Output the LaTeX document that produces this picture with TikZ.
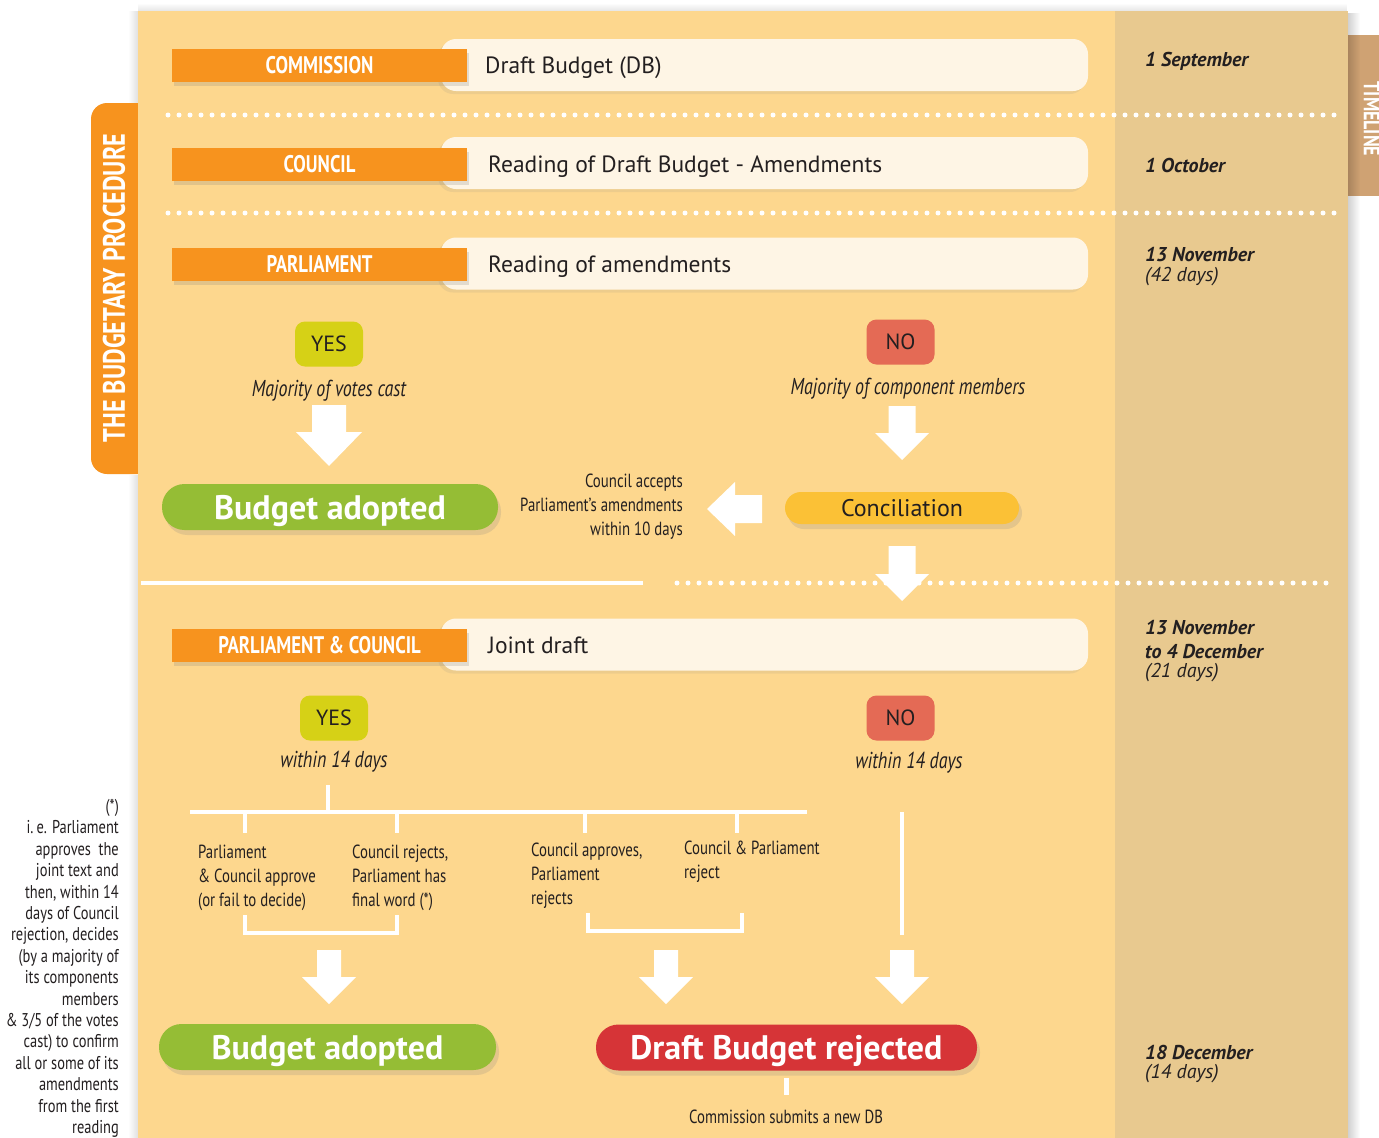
\documentclass[tikz,border=0pt]{standalone}
\usepackage{fontspec}
\setmainfont{PT Sans}
\newfontfamily\cond{PT Sans}[FakeStretch=0.78]
\usetikzlibrary{shadows,fadings}
\definecolor{cpanel}{HTML}{FDD78E}
\definecolor{ctime}{HTML}{E8C98F}
\definecolor{corange}{HTML}{F7931E}
\definecolor{cpale}{HTML}{FEF5E5}
\definecolor{cyes}{HTML}{D6D116}
\definecolor{cno}{HTML}{E46A55}
\definecolor{cconc}{HTML}{FBC136}
\definecolor{cgreen}{HTML}{95BD35}
\definecolor{cred}{HTML}{D63437}
\definecolor{ctab}{HTML}{CFA273}
\definecolor{ctext}{HTML}{231F20}
\newcommand\fs[2]{\fontsize{#1}{#2}\selectfont}
\newcommand\DArr[6]{\fill[white] (#1-#3,#2) -- (#1+#3,#2) -- (#1+#3,#2+#5) -- (#1+#4,#2+#5) -- (#1,#2+#6) -- (#1-#4,#2+#5) -- (#1-#3,#2+#5) -- cycle;}
\begin{document}
\begin{tikzpicture}[x=1pt,y=-1pt,
  hdr/.style={fill=corange, text=white, minimum width=295pt, minimum height=33pt, inner sep=0pt,
    font=\cond\bfseries\fs{24}{26}, drop shadow={opacity=0.22, shadow xshift=2pt, shadow yshift=-4pt}},
  pale/.style={fill=cpale, rounded corners=15pt, minimum width=647pt, minimum height=52pt, inner sep=0pt,
    drop shadow={opacity=0.12, shadow xshift=-3pt, shadow yshift=-3pt}},
  rowtxt/.style={anchor=base west, inner sep=0pt, font=\fs{23.5}{28}, text=ctext},
  yesbox/.style={fill=cyes, rounded corners=10pt, minimum width=68pt, minimum height=45pt, inner sep=0pt,
    font=\fs{22}{24}, text=ctext},
  nobox/.style={yesbox, fill=cno},
  note/.style={font=\cond\itshape\fs{23}{26}, text=ctext, inner sep=0pt},
  pill/.style={rounded corners=22.5pt, minimum height=46pt, inner sep=0pt, text=white, text depth=0pt,
    font=\bfseries\fs{34}{38}, drop shadow={opacity=0.2, shadow xshift=3pt, shadow yshift=-5pt}},
  small/.style={font=\cond\fs{19}{24}, text=ctext, inner sep=0pt},
  datebf/.style={font=\bfseries\itshape\fs{20}{23}, text=ctext, inner sep=0pt, anchor=west},
  dateit/.style={font=\itshape\fs{20}{23}, text=ctext, inner sep=0pt, anchor=west},
  dots/.style={white, line width=5pt, line cap=round, dash pattern=on 0pt off 11pt},
  wline/.style={white, line width=4.5pt},
]
\useasboundingbox (0,0) rectangle (1379,1138);
\fill[white] (0,0) rectangle (1379,1138);
% timeline tab
\fill[ctab] (1340,35) rectangle (1379,196);
\node[rotate=-90, text=white, font=\cond\bfseries\fs{23}{24}, inner sep=0pt] (tl) at (1372,119) {TIMELINE};
% procedure tab
\fill[corange, rounded corners=16pt] (91,103) rectangle (170,474);
\node[rotate=90, text=white, font=\cond\bfseries\fs{31}{32}, inner sep=0pt] (proc) at (114,288) {THE BUDGETARY PROCEDURE};
% panel shadows
\fill[black, opacity=0.18, path fading=east] (1348,11) rectangle (1360,1138);
\fill[black, opacity=0.12, path fading=west] (128,11) rectangle (138,103);
\fill[black, opacity=0.12, path fading=west] (128,474) rectangle (138,1138);
\fill[black, opacity=0.10, path fading=north] (138,3) rectangle (1348,11);
% panel
\fill[cpanel] (138,11) rectangle (1115,1138);
\fill[ctime] (1115,11) rectangle (1348,1138);
% dotted separators
\draw[dots] (168,115) -- (1336,115);
\draw[dots] (168,213) -- (1336,213);
\draw[wline] (141,583) -- (643,583);
\draw[dots] (677,583) -- (1336,583);
% rows
\node[pale] (p1) at (764.5,65) {};
\node[hdr] (h1) at (319.5,65.5) {COMMISSION};
\node[rowtxt] (t1) at (485,73) {Draft Budget (DB)};
\node[pale] (p2) at (764.5,163) {};
\node[hdr] (h2) at (319.5,164) {COUNCIL};
\node[rowtxt] (t2) at (488,172) {Reading of Draft Budget - Amendments};
\node[pale] (p3) at (764.5,263.5) {};
\node[hdr] (h3) at (319.5,264) {PARLIAMENT};
\node[rowtxt] (t3) at (488,272) {Reading of amendments};
\node[pale] (p4) at (764.5,644.5) {};
\node[hdr] (h4) at (319.5,645.5) {PARLIAMENT \& COUNCIL};
\node[rowtxt] (t4) at (488,653) {Joint draft};
% first decision
\node[yesbox] (y1) at (329,344) {YES};
\node[note] (m1) at (329,391) {Majority of votes cast};
\DArr{329}{405}{17}{33}{27}{61}
\node[nobox] (n1) at (900.5,342) {NO};
\node[note] (m2) at (908,389) {Majority of component members};
\DArr{902}{406}{13.5}{27}{27}{54}
\node[pill, fill=cgreen, minimum width=336pt] (ba1) at (330,507) {Budget adopted};
\node[pill, fill=cconc, minimum width=234pt, minimum height=32pt, rounded corners=16pt,
  font=\fs{24}{26}, text=ctext] (conc) at (902,508) {Conciliation};
\fill[white] (707,509) -- (735,482) -- (735,495) -- (762,495) -- (762,523) -- (735,523) -- (735,536) -- cycle;
\node[small, align=right, anchor=north east] (acc) at (683,474) {Council accepts\\Parliament’s amendments\\within 10 days};
\DArr{902}{546}{13.5}{27}{28}{55}
% second decision
\node[yesbox] (y2) at (334,718) {YES};
\node[note] (w1) at (334,762) {within 14 days};
\node[nobox] (n2) at (900.5,718) {NO};
\node[note] (w2) at (909,763) {within 14 days};
% tree
\draw[wline] (328,785) -- (328,812);
\draw[wline] (190,812) -- (807,812);
\foreach \xx in {245,397,585,737} \draw[wline] (\xx,812) -- (\xx,833);
\node[small, align=left, anchor=north west] (o1) at (198,845) {Parliament\\\& Council approve\\(or fail to decide)};
\node[small, align=left, anchor=north west] (o2) at (352,845) {Council rejects,\\Parliament has\\final word (*)};
\node[small, align=left, anchor=north west] (o3) at (531,843) {Council approves,\\Parliament\\rejects};
\node[small, align=left, anchor=north west] (o4) at (684,841) {Council \& Parliament\\reject};
\draw[wline] (245,915) -- (245,933) -- (397,933) -- (397,915);
\draw[wline] (588,913) -- (588,931) -- (742,931) -- (742,913);
\draw[wline] (902,812) -- (902,935);
\DArr{329}{950}{12}{27}{27}{54}
\DArr{666}{950}{12}{27}{27}{54}
\DArr{902}{950}{12}{27}{27}{54}
\node[pill, fill=cgreen, minimum width=337pt] (ba2) at (327.5,1047) {Budget adopted};
\node[pill, fill=cred, minimum width=381pt] (rej) at (786.5,1047.5) {Draft Budget rejected};
\draw[wline] (rej.south) ++(0,7) coordinate (rt) -- ++(0,17);
\node[small] (newdb) at (786,1117) {Commission submits a new DB};
% timeline dates
\node[datebf] (d1) at (1145,61) {1 September};
\node[datebf] (d2) at (1145,165) {1 October};
\node[datebf] (d3) at (1145,255) {13 November};
\node[dateit] (d3b) at (1145,277) {(42 days)};
\node[datebf] (d4) at (1145,628) {13 November};
\node[datebf] (d4b) at (1145,652) {to 4 December};
\node[dateit] (d4c) at (1145,673) {(21 days)};
\node[datebf] (d5) at (1145,1052) {18 December};
\node[dateit] (d5b) at (1145,1074) {(14 days)};
% footnote
\node[font=\cond\fs{18.5}{21.4}, text=ctext, inner sep=0pt, align=right, anchor=north east] (fn) at (119,799)
 {(*)\\i.\,e. Parliament\\approves\ \ the\\joint text and\\then, within 14\\days of Council\\rejection, decides\\(by a majority of\\its components\\members\\\& 3/5 of the votes\\cast) to confirm\\all or some of its\\amendments\\from the first\\reading};
\end{tikzpicture}
\end{document}
